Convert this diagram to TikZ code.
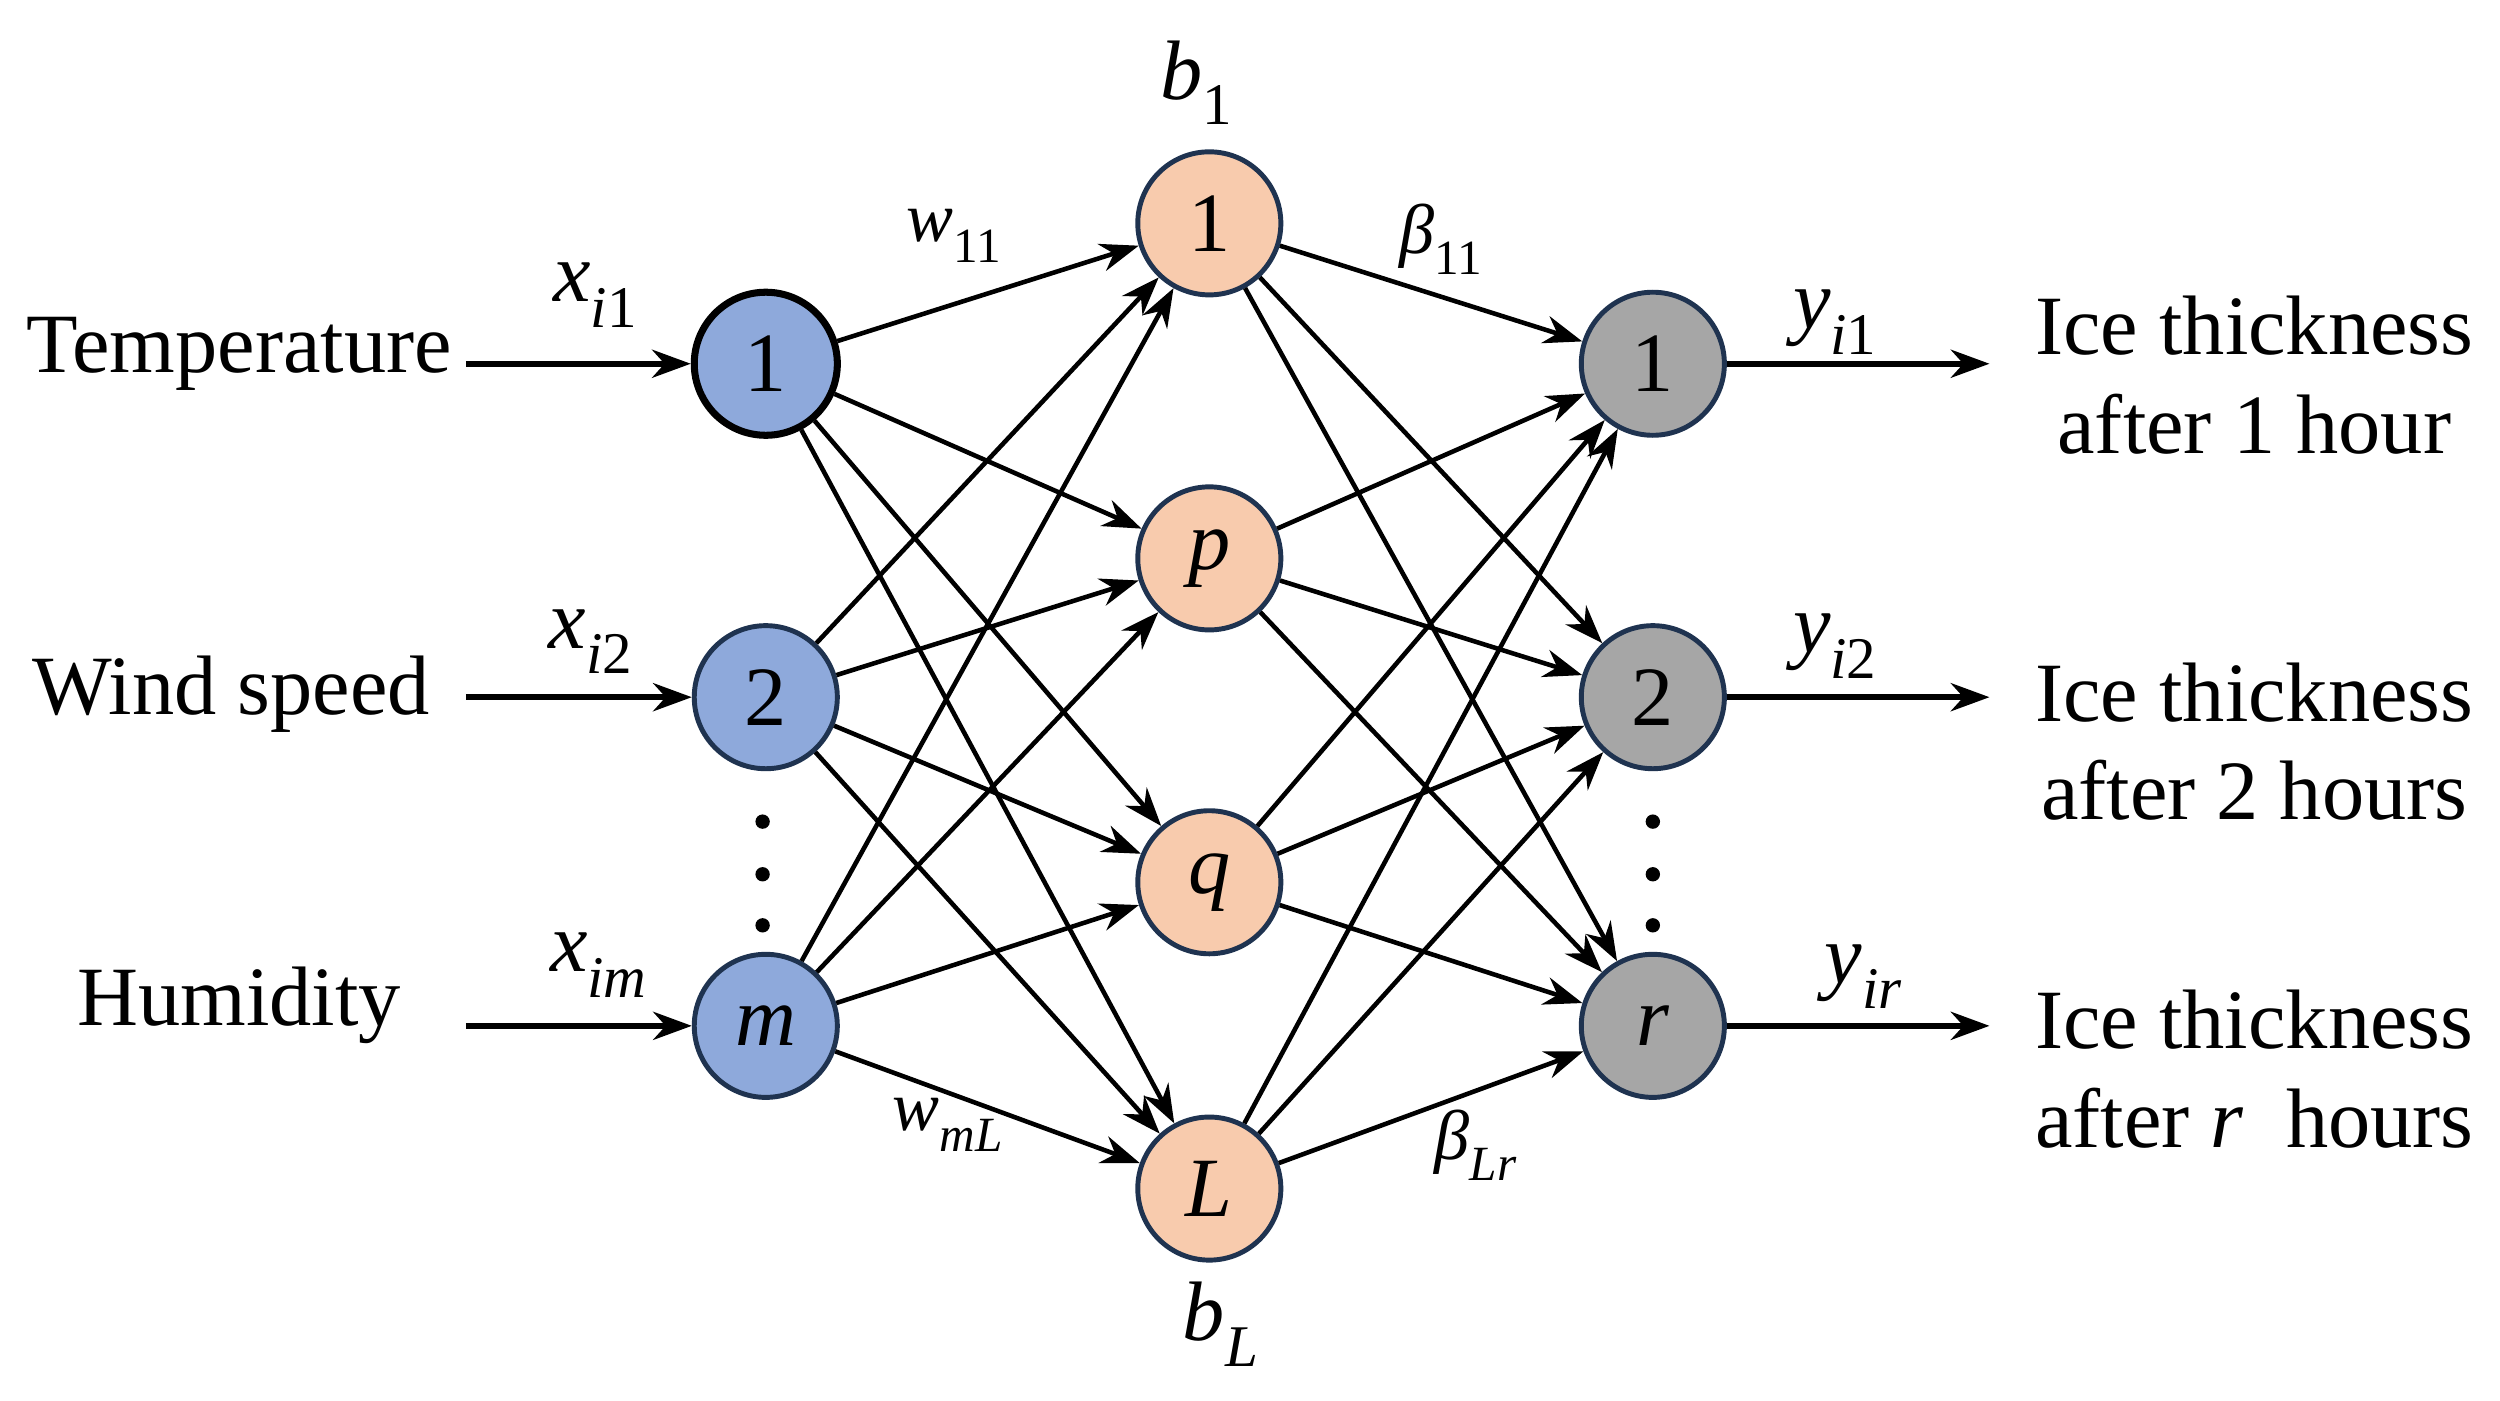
\documentclass[tikz,border=0pt]{standalone}
\usepackage{fontspec}
\setmainfont{Liberation Serif}
\usetikzlibrary{arrows.meta}
\newcommand\myv[2]{\textit{#1}\raisebox{-0.3em}{\fontsize{0.7em}{1em}\selectfont #2}}
\begin{document}
\begin{tikzpicture}[x=0.01595cm,y=-0.01595cm,
  neu/.style={circle,minimum size=1.43cm,inner sep=0pt,line width=1.4pt,draw=navy,font=\fontsize{24}{28}\selectfont},
  inp/.style={neu,fill=blueF},
  hid/.style={neu,fill=orangeF},
  outp/.style={neu,fill=greyF},
  con/.style={line width=1.3pt,-{Stealth[length=11pt,width=8pt]}},
  lab/.style={font=\fontsize{24}{28}\selectfont},
  slab/.style={font=\fontsize{20}{24}\selectfont}]
\definecolor{navy}{HTML}{1F3350}
\definecolor{blueF}{HTML}{8EA9DB}
\definecolor{orangeF}{HTML}{F8CBAD}
\definecolor{greyF}{HTML}{A6A6A6}
\useasboundingbox (0,0) rectangle (1567,878);
\node[inp,draw=black,line width=2pt] (i1) at (480,228) {1};
\node[inp] (i2) at (480,437) {2};
\node[inp] (i3) at (480,643) {\textit{m}};
\node[hid] (h1) at (758,140) {1};
\node[hid] (h2) at (758,350) {\textit{p}};
\node[hid] (h3) at (758,553) {\textit{q}};
\node[hid] (h4) at (758,745) {\textit{L}};
\node[outp] (o1) at (1036,228) {1};
\node[outp] (o2) at (1036,437) {2};
\node[outp] (o3) at (1036,643) {\textit{r}};
\foreach \i in {1,2,3}{\foreach \h in {1,2,3,4}{\draw[con] (i\i) -- (h\h);}}
\foreach \h in {1,2,3,4}{\foreach \o in {1,2,3}{\draw[con] (h\h) -- (o\o);}}
\node[lab] (t1) at (150,222) {Temperature};
\node[lab] (t2) at (145,435) {Wind speed};
\node[lab] (t3) at (150,630) {Humidity};
\coordinate (s1) at (292,228); \coordinate (s2) at (292,437); \coordinate (s3) at (292,643);
\foreach \k in {1,2,3}{\draw[con,line width=1.6pt] (s\k) -- (i\k);}
\coordinate (e1) at (1247,228); \coordinate (e2) at (1247,437); \coordinate (e3) at (1247,643);
\foreach \k in {1,2,3}{\draw[con,line width=1.6pt] (o\k) -- (e\k);}
\node[lab,align=center] (r1) at (1413,235) {Ice thickness\\after 1 hour};
\node[lab,align=center] (r2) at (1413,465) {Ice thickness\\after 2 hours};
\node[lab,align=center] (r3) at (1413,670) {Ice thickness\\after \textit{r}\ \ hours};
\node[lab] (lx1) at (373,185) {\myv{x}{\textit{i}1}};
\node[lab] (lx2) at (370,402) {\myv{x}{\textit{i}2}};
\node[lab] (lx3) at (375,605) {\myv{x}{\textit{im}}};
\node[lab] (ly1) at (1150,202) {\myv{y}{\textit{i}1}};
\node[lab] (ly2) at (1150,405) {\myv{y}{\textit{i}2}};
\node[lab] (ly3) at (1168,612) {\myv{y}{\textit{ir}}};
\node[slab] (w1) at (598,148) {\myv{w}{11}};
\node[slab] (w2) at (594,705) {\myv{w}{\textit{mL}}};
\node[slab] (be1) at (903,150) {\myv{β}{11}};
\node[slab] (be2) at (925,718) {\myv{β}{\textit{Lr}}};
\node[lab] (b1) at (750,52) {\myv{b}{1}};
\node[lab] (bL) at (765,830) {\myv{b}{\textit{L}}};
\foreach \x in {478,1036}{\foreach \y in {515,548,580}{\fill (\x,\y) circle (4.5);}}
\end{tikzpicture}
\end{document}
